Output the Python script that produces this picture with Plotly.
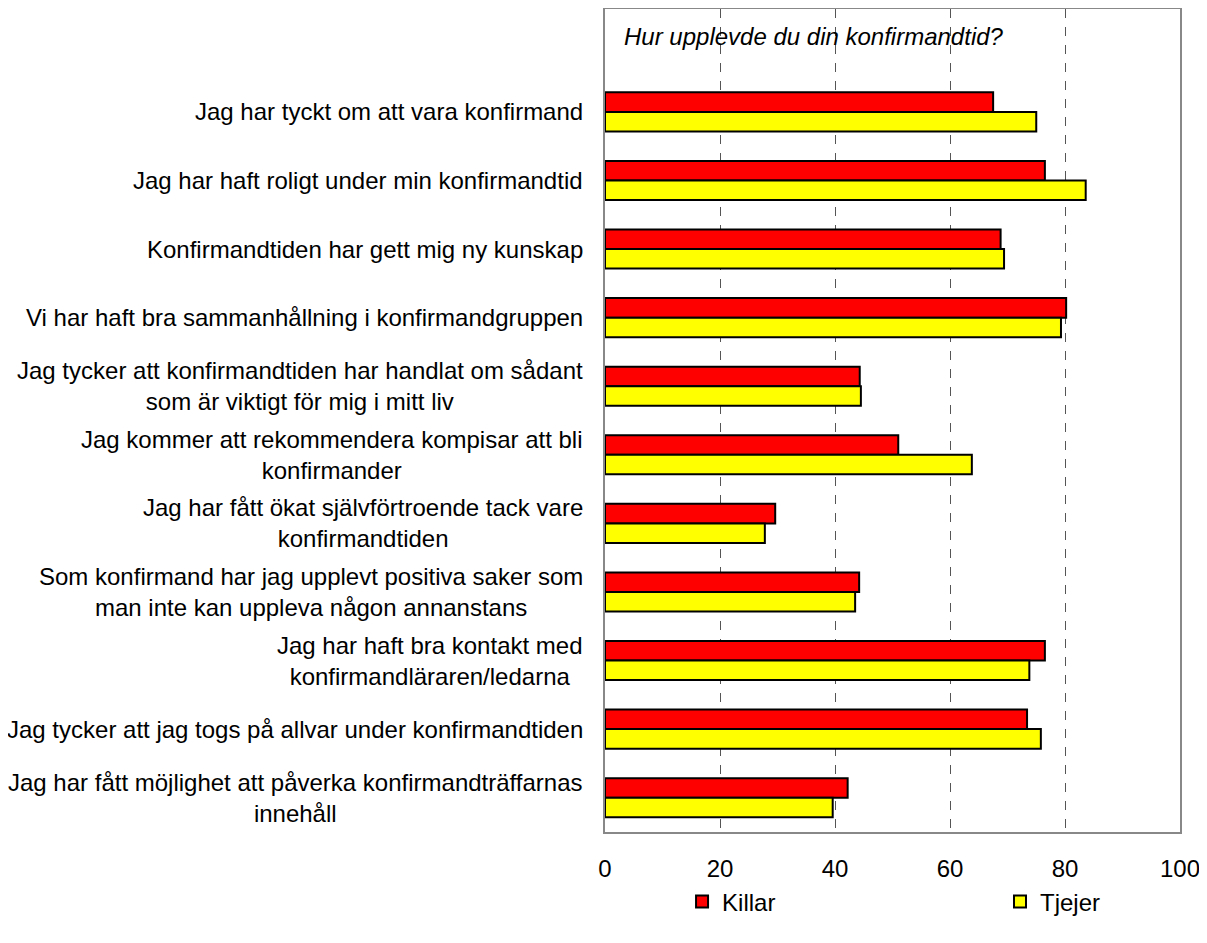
import plotly.graph_objects as go

categories = [
    "Jag har tyckt om att vara konfirmand",
    "Jag har haft roligt under min konfirmandtid",
    "Konfirmandtiden har gett mig ny kunskap",
    "Vi har haft bra sammanhållning i konfirmandgruppen",
    "Jag tycker att konfirmandtiden har handlat om sådant<br>som är viktigt för mig i mitt liv",
    "Jag kommer att rekommendera kompisar att bli<br>konfirmander",
    "Jag har fått ökat självförtroende tack vare<br>konfirmandtiden",
    "Som konfirmand har jag upplevt positiva saker som<br>man inte kan uppleva någon annanstans",
    "Jag har haft bra kontakt med<br>konfirmandläraren/ledarna",
    "Jag tycker att jag togs på allvar under konfirmandtiden",
    "Jag har fått möjlighet att påverka konfirmandträffarnas<br>innehåll",
]

killar = [67.5, 76.5, 68.8, 80.2, 44.3, 51.0, 29.6, 44.2, 76.5, 73.4, 42.2]
tjejer = [75.0, 83.6, 69.4, 79.3, 44.5, 63.8, 27.8, 43.5, 73.8, 75.8, 39.6]

title_text = "Hur upplevde du din konfirmandtid?"
x_ticks = [0, 20, 40, 60, 80, 100]

ypos = list(range(1, len(categories) + 1))
FONT = "Liberation Sans, Arial, sans-serif"

fig = go.Figure()
fig.add_trace(go.Bar(
    y=ypos, x=killar, orientation="h", name="Killar", legend="legend",
    marker=dict(color="#FF0000", line=dict(color="#000000", width=2)),
))
fig.add_trace(go.Bar(
    y=ypos, x=tjejer, orientation="h", name="Tjejer", legend="legend2",
    marker=dict(color="#FFFF00", line=dict(color="#000000", width=2)),
))

annotations = [dict(
    text=title_text, xref="paper", yref="paper", x=0.0296, y=0.967,
    xanchor="left", yanchor="middle", showarrow=False,
    font=dict(size=24, style="italic"),
)]
for yp, lab in zip(ypos, categories):
    annotations.append(dict(
        text=lab, xref="paper", yref="y", x=0, y=yp, xanchor="right",
        yanchor="middle", xshift=-20, align="center", showarrow=False,
        font=dict(size=24),
    ))

fig.update_layout(
    width=1199, height=935,
    margin=dict(l=597, r=27, t=1, b=111, autoexpand=False),
    paper_bgcolor="white", plot_bgcolor="white",
    font=dict(family=FONT, size=24, color="black"),
    barmode="group", bargap=0.43, bargroupgap=0.0,
    showlegend=True,
    legend=dict(
        orientation="h", x=0.134, xanchor="left", y=-0.085, yanchor="middle",
        itemwidth=30, font=dict(size=24), bgcolor="rgba(0,0,0,0)",
    ),
    legend2=dict(
        orientation="h", x=0.687, xanchor="left", y=-0.085, yanchor="middle",
        itemwidth=30, font=dict(size=24), bgcolor="rgba(0,0,0,0)",
    ),
    annotations=annotations,
)

fig.update_xaxes(
    range=[0, 100], tickvals=x_ticks, ticktext=[str(v) for v in x_ticks],
    showgrid=True, gridcolor="#555555", gridwidth=1, griddash="dash",
    showline=True, linecolor="#888888", linewidth=2, mirror=True,
    ticks="", ticklabelstandoff=14, zeroline=False, ticklabeloverflow="allow",
    tickfont=dict(size=24),
)
fig.update_yaxes(
    range=[len(categories) + 0.5, -0.5],
    tickvals=ypos, showticklabels=False,
    showgrid=False, showline=True, linecolor="#888888", linewidth=2, mirror=True,
    ticks="", zeroline=False,
)

fig.write_html("out.html")
